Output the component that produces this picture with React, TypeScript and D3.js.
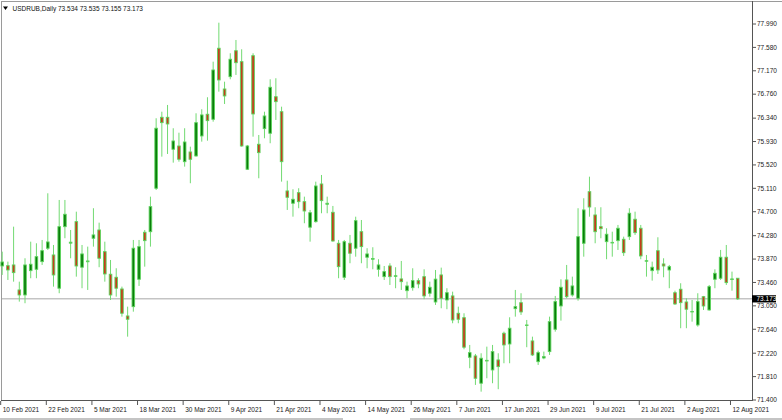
import React from "react";
import * as d3 from "d3";

const title = "USDRUB,Daily";
const headerValues = ["73.534", "73.535", "73.155", "73.173"];

const opens = [73.749,73.755,73.767,73.329,73.241,73.667,73.691,73.825,74.060,73.942,73.359,74.438,74.149,74.526,73.727,73.823,74.235,74.380,74.000,73.604,73.551,73.346,72.873,73.036,73.516,74.340,74.350,75.111,76.355,76.355,75.795,75.852,75.577,75.747,75.677,76.028,76.408,76.320,77.565,76.851,77.067,77.522,77.330,75.444,77.435,75.882,76.156,76.075,76.716,76.453,75.064,74.848,75.034,74.876,74.428,74.526,75.186,74.831,74.690,74.147,73.551,74.147,74.060,74.350,73.902,73.867,73.691,73.562,73.749,73.567,73.522,73.316,73.369,73.492,73.562,73.271,73.118,73.592,73.153,73.224,72.920,72.843,72.149,72.172,71.694,72.084,71.927,72.102,72.570,72.382,73.001,73.106,72.705,72.435,72.072,72.137,72.248,72.640,73.048,73.504,73.241,73.183,74.147,75.051,74.643,74.438,74.175,74.152,74.193,74.217,74.263,74.568,74.410,73.832,73.667,74.017,73.784,73.679,73.281,73.341,73.118,72.943,72.715,73.211,72.978,73.516,73.534,73.902,73.511,73.534];
const highs = [74.000,73.825,74.438,73.474,73.884,74.175,74.147,74.205,75.023,74.117,74.906,74.906,74.380,74.701,74.117,74.088,74.761,74.508,74.175,73.854,73.709,73.387,73.036,74.205,74.205,74.380,74.964,76.338,76.453,76.571,76.163,76.085,76.163,75.840,76.425,76.496,76.706,77.330,78.013,76.979,77.477,77.710,77.547,75.870,77.477,76.045,76.453,77.021,77.039,76.541,75.244,75.094,75.111,74.964,74.731,75.227,75.344,74.964,74.801,74.205,74.205,74.293,74.613,74.555,74.060,74.077,73.867,73.749,73.797,73.727,73.837,73.474,73.709,73.534,73.691,73.474,73.679,73.720,73.359,73.299,73.036,72.920,72.365,72.207,72.219,72.335,72.365,72.219,72.598,72.850,73.329,73.271,72.803,72.510,72.265,72.248,72.861,73.224,73.516,73.767,73.562,74.761,74.936,75.314,74.778,74.778,74.410,74.350,74.468,74.263,74.761,74.701,74.468,73.942,73.825,74.252,73.884,73.767,73.316,73.446,73.183,73.153,73.271,73.224,73.416,73.691,74.030,74.117,73.650,73.535];
const lows = [73.592,73.504,73.474,73.124,73.096,73.534,73.534,73.767,74.030,73.387,73.271,74.235,73.884,73.562,73.359,73.329,74.088,73.727,73.474,73.153,73.211,72.861,72.510,72.948,73.399,73.737,74.088,75.081,75.665,75.712,75.560,75.577,75.490,75.199,75.665,75.928,75.945,76.278,76.804,76.588,77.021,77.097,75.840,75.432,76.015,75.286,75.987,75.900,76.308,75.227,74.731,74.613,74.761,74.498,74.175,74.508,74.673,74.673,74.175,73.534,73.504,73.797,73.912,73.797,73.709,73.691,73.562,73.504,73.416,73.359,73.329,73.183,73.316,73.359,73.166,73.211,73.066,73.008,72.991,72.745,72.745,72.289,71.957,71.664,71.546,71.781,71.694,71.589,72.044,72.044,72.861,72.891,72.325,72.172,72.014,72.114,72.190,72.598,72.791,73.183,73.211,73.141,73.912,74.613,74.147,74.235,73.867,73.912,74.030,73.925,74.205,74.293,73.867,73.562,73.492,73.609,73.551,73.359,73.066,72.658,72.658,72.773,72.686,72.978,72.966,73.359,73.504,73.416,73.316,73.155];
const closes = [73.819,73.679,73.632,73.241,73.767,73.779,73.912,74.017,74.170,73.592,74.438,74.655,74.166,73.749,73.960,73.837,74.293,73.884,73.609,73.241,73.359,72.920,72.815,74.060,74.088,74.193,74.789,76.163,76.261,76.238,75.940,75.619,75.922,75.619,76.261,76.396,76.296,77.184,77.009,76.729,77.372,77.312,75.852,75.852,76.413,75.735,76.378,76.881,76.629,75.577,74.953,74.918,74.876,74.713,74.683,75.151,74.894,74.848,74.187,73.737,74.175,73.972,74.543,74.088,73.960,73.881,73.767,73.650,73.562,73.578,73.474,73.399,73.492,73.434,73.224,73.376,73.518,73.183,73.281,72.803,72.815,72.325,72.230,71.781,72.132,72.095,72.248,71.985,72.365,72.658,73.036,72.943,72.715,72.190,72.230,72.160,72.773,73.124,73.376,73.211,73.399,74.263,74.731,74.783,74.350,74.403,74.305,74.163,74.410,73.982,74.673,74.333,73.925,73.842,73.727,73.679,73.749,73.737,73.083,73.106,72.991,72.952,73.124,73.048,73.387,73.621,73.902,73.457,73.522,73.173];

const dateLabels = ["10 Feb 2021","22 Feb 2021","5 Mar 2021","18 Mar 2021","30 Mar 2021","9 Apr 2021","21 Apr 2021","4 May 2021","14 May 2021","26 May 2021","7 Jun 2021","17 Jun 2021","29 Jun 2021","9 Jul 2021","21 Jul 2021","2 Aug 2021","12 Aug 2021"];
const labelEvery = 8;
const priceTicks = [77.990,77.580,77.170,76.760,76.340,75.930,75.520,75.110,74.700,74.280,73.870,73.460,73.050,72.640,72.220,71.810,71.400];
const lastPrice = 73.173;

const FONT = "'Liberation Sans', Arial, sans-serif";

export default function App() {
  const W = 782, H = 420;
  const plotRight = 752, plotBottom = 400;
  const n = opens.length;
  const x = d3.scaleLinear().domain([0, n - 1]).range([2.2, 737.7]);
  const y = d3.scaleLinear().domain([71.4, 77.99]).range([400, 24]);
  const wickColor = "#72da72";
  const outline = "#5cd45c";
  const bull = "#0a7d0a";
  const bear = "#c63c1c";
  const bodyW = 2.6;

  return (
    <svg width={W} height={H} viewBox={`0 0 ${W} ${H}`}
      style={{ position: "absolute", left: 0, top: 0, background: "#fff" }}>
      <rect x={0} y={0} width={W} height={H} fill="#fff" />
      {/* frame */}
      <line x1={1} y1={1.5} x2={W} y2={1.5} stroke="#9a9a9a" strokeWidth={1} />
      <line x1={1.5} y1={1} x2={1.5} y2={plotBottom} stroke="#9a9a9a" strokeWidth={1} />
      <line x1={plotRight + 0.5} y1={1} x2={plotRight + 0.5} y2={plotBottom} stroke="#555" strokeWidth={1} />
      <line x1={1} y1={plotBottom + 0.5} x2={plotRight + 1} y2={plotBottom + 0.5} stroke="#555" strokeWidth={1} />

      {/* last price line */}
      <line x1={2} x2={plotRight} y1={y(lastPrice)} y2={y(lastPrice)} stroke="#a8a8a8" strokeWidth={1} />

      {/* candles */}
      {opens.map((o, i) => {
        const c = closes[i];
        const cx = x(i);
        const top = y(Math.max(o, c));
        const bot = y(Math.min(o, c));
        const up = c >= o;
        return (
          <g key={i}>
            <line x1={cx} x2={cx} y1={y(highs[i])} y2={y(lows[i])} stroke={wickColor} strokeWidth={1} />
            <rect x={cx - bodyW / 2} y={top} width={bodyW} height={Math.max(0.3, bot - top)}
              fill={up ? bull : bear} stroke={outline} strokeWidth={0.9} />
          </g>
        );
      })}

      {/* price axis */}
      {priceTicks.map((p, i) => (
        <g key={"p" + i}>
          <line x1={plotRight + 1} x2={plotRight + 4} y1={y(p)} y2={y(p)} stroke="#555" strokeWidth={1} />
          <text x={plotRight + 5} y={y(p) + 2.3} fontSize={6.5} fontFamily={FONT} fill="#222">{p.toFixed(3)}</text>
        </g>
      ))}
      <rect x={plotRight} y={y(lastPrice) - 3.6} width={24} height={7.2} fill="#000" />
      <text x={plotRight + 4.5} y={y(lastPrice) + 2.3} fontSize={6.5} fontFamily={FONT} fill="#fff">{lastPrice.toFixed(3)}</text>

      {/* time axis */}
      {dateLabels.map((d, i) => {
        const tx = x(i * labelEvery) - 1.5;
        return (
          <g key={"d" + i}>
            <line x1={tx} x2={tx} y1={plotBottom + 1} y2={plotBottom + 5} stroke="#555" strokeWidth={1} />
            <text x={tx + 2} y={plotBottom + 12} fontSize={6.5} fontFamily={FONT} fill="#222">{d}</text>
          </g>
        );
      })}
      <rect x={0} y={418} width={343} height={2} fill="#c4c4c4" />
      <rect x={410} y={418} width={372} height={2} fill="#c4c4c4" />

      {/* header */}
      <path d="M3,6.5 L8,6.5 L5.5,10 Z" fill="#000" />
      <text x={12.5} y={10.5} fontSize={6.5} fontFamily={FONT} fill="#111">
        {title + "  " + headerValues.join(" ")}
      </text>
    </svg>
  );
}
